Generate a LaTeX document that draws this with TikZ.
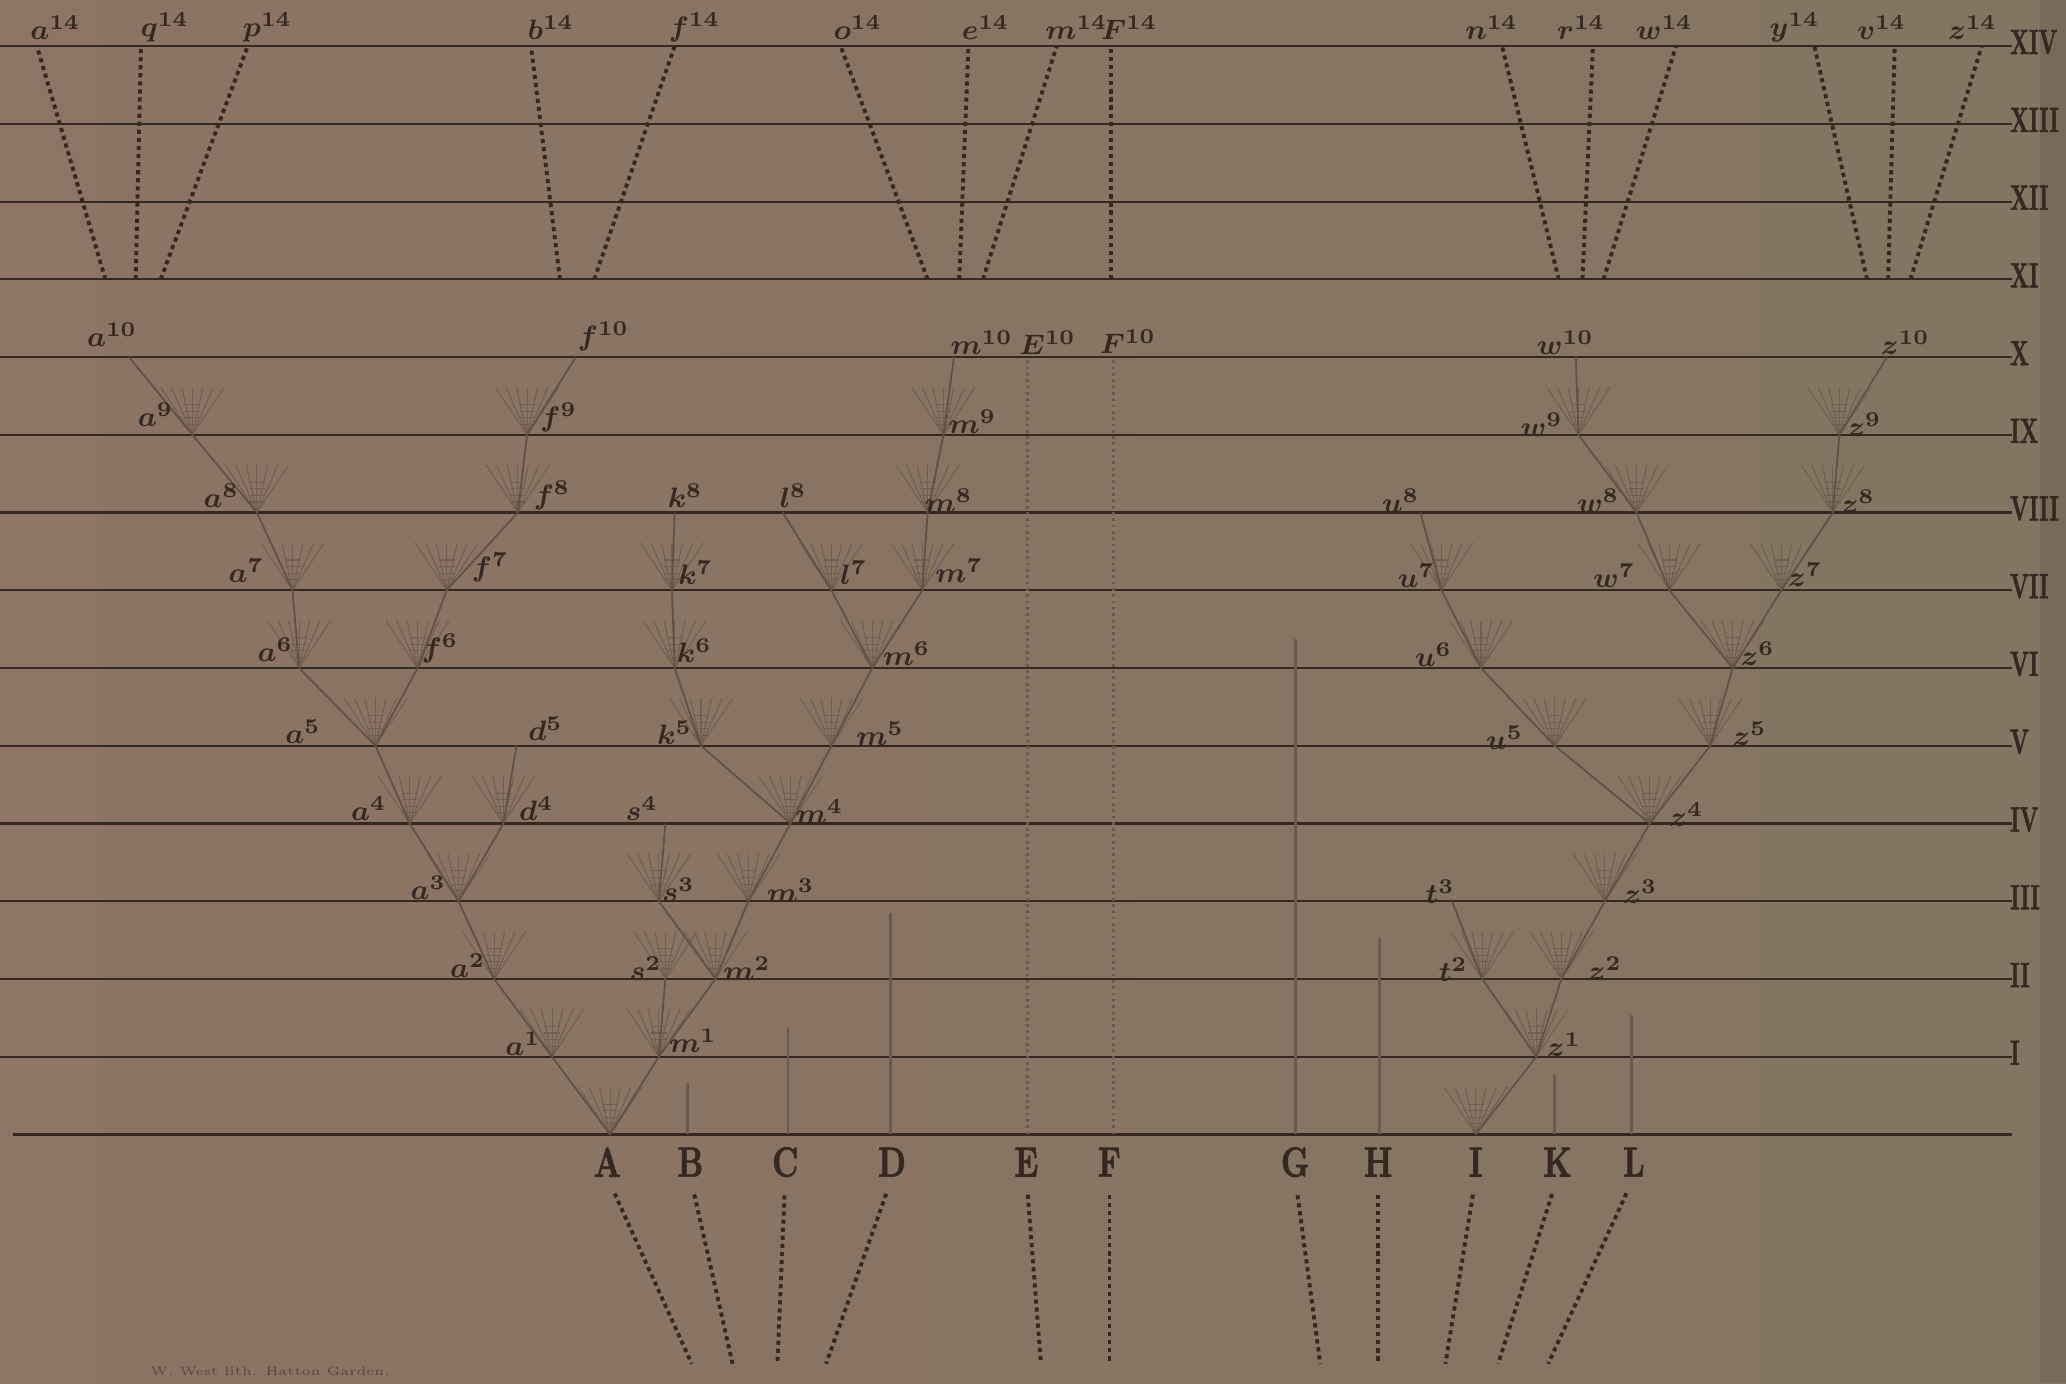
\documentclass[tikz,border=0pt]{standalone}
\usepackage{fontspec}
\newfontfamily\heavyfont{lmroman10-bold.otf}[FakeBold=1.6]
\definecolor{paper}{RGB}{141,116,100}
\definecolor{paperright}{RGB}{131,117,98}
\definecolor{ink}{RGB}{52,40,32}
\definecolor{faint}{RGB}{108,91,76}

% a fan of faint lines above a branching point
\newcommand{\branchfan}[1]{%
  \foreach \dx in {-24,-16,-8,0,8,16,24}
    \draw[fanline] (#1) -- ++(\dx,-36);
  \foreach \hy in {8,13,18,23}
    \draw[fanline] ([shift={(-6,-\hy)}]#1) -- ++(12,0);
}

\begin{document}
\begin{tikzpicture}[x=0.013176cm, y=-0.013176cm]
  \tikzset{
    timeline/.style = {draw=ink, line width=0.6pt},
    fanline/.style  = {draw=faint, line width=0.3pt, opacity=0.8},
    branch/.style   = {draw=faint!80!ink, line width=0.5pt},
    stem/.style     = {draw=faint, line width=0.8pt},
    descent/.style  = {draw=ink, line width=1.1pt, dash pattern=on 1.2pt off 1.1pt},
    lbl/.style      = {text=ink, font=\fontsize{8.5}{10}\selectfont\boldmath, inner sep=0pt},
    letter/.style   = {text=ink, font=\large\heavyfont, inner sep=0pt},
    numeral/.style  = {text=ink, font=\heavyfont, inner sep=0pt, anchor=west}
  }
  \useasboundingbox (0,0) rectangle (1568,1050);
  \fill[left color=paper, right color=paperright] (0,0) rectangle (1568,1050);
  \fill[paperright!75!black, opacity=0.35] (1548,0) rectangle (1568,1050);

  % the fourteen time lines and the base line
  \coordinate (left0) at (10,861);
  \coordinate (right0) at (1527,861);
  \draw[timeline] (left0) -- (right0);
  \foreach \k/\rn in {1/I,2/II,3/III,4/IV,5/V,6/VI,7/VII,8/VIII,9/IX,10/X,11/XI,12/XII,13/XIII,14/XIV} {
    \coordinate (left\k) at (0,{861-59*\k});
    \coordinate (right\k) at (1527,{861-59*\k});
    \draw[timeline] (left\k) -- (right\k);
    \node[numeral] (rn\k) at (1525,{858-59*\k}) {\scalebox{0.62}[1]{\rn}};
  }

  % branching points of A
  \coordinate (pA) at (463,861);
  \coordinate (a1) at (419,802);  \coordinate (m1) at (500,802);
  \coordinate (a2) at (375,743);  \coordinate (s2) at (505,743);  \coordinate (m2) at (543,743);
  \coordinate (a3) at (348,684);  \coordinate (s3) at (500,684);  \coordinate (m3) at (568,684);
  \coordinate (a4) at (311,625);  \coordinate (d4) at (382,625);  \coordinate (s4) at (505,625);  \coordinate (m4) at (600,625);
  \coordinate (a5) at (285,566);  \coordinate (d5) at (392,566);  \coordinate (k5) at (532,566);  \coordinate (m5) at (631,566);
  \coordinate (a6) at (227,507);  \coordinate (f6) at (317,507);  \coordinate (k6) at (512,507);  \coordinate (m6) at (662,507);
  \coordinate (a7) at (222,448);  \coordinate (f7) at (339,448);  \coordinate (k7) at (510,448);  \coordinate (l7) at (631,448);  \coordinate (m7) at (700,448);
  \coordinate (a8) at (195,389);  \coordinate (f8) at (393,389);  \coordinate (k8) at (512,389);  \coordinate (l8) at (594,389);  \coordinate (m8) at (704,389);
  \coordinate (a9) at (146,330);  \coordinate (f9) at (400,330);  \coordinate (m9) at (716,330);
  \coordinate (a10) at (98,271);  \coordinate (f10) at (437,271); \coordinate (m10) at (724,271);
  \coordinate (pE) at (780,861);  \coordinate (E10) at (780,271);
  \coordinate (pF) at (845,861);  \coordinate (F10) at (845,271);

  % branching points of I
  \coordinate (pI) at (1120,861);
  \coordinate (z1) at (1166,802);
  \coordinate (t2) at (1125,743);  \coordinate (z2) at (1185,743);
  \coordinate (t3) at (1102,684);  \coordinate (z3) at (1218,684);
  \coordinate (z4) at (1252,625);
  \coordinate (u5) at (1180,566);  \coordinate (z5) at (1298,566);
  \coordinate (u6) at (1124,507);  \coordinate (z6) at (1315,507);
  \coordinate (u7) at (1094,448);  \coordinate (w7) at (1267,448);  \coordinate (z7) at (1352,448);
  \coordinate (u8) at (1078,389);  \coordinate (w8) at (1242,389);  \coordinate (z8) at (1391,389);
  \coordinate (w9) at (1198,330);  \coordinate (z9) at (1396,330);
  \coordinate (w10) at (1196,271); \coordinate (z10) at (1432,271);

  \foreach \p in {pA,a1,m1,a2,s2,m2,a3,s3,m3,a4,d4,m4,a5,k5,m5,a6,f6,k6,m6,a7,f7,k7,l7,m7,a8,f8,m8,a9,f9,m9,
                  pI,z1,t2,z2,z3,z4,u5,z5,u6,z6,u7,w7,z7,w8,z8,w9,z9}
    \branchfan{\p};

  \foreach \u/\v in {pA/a1,pA/m1,a1/a2,m1/s2,m1/m2,a2/a3,m2/s3,m2/m3,a3/a4,a3/d4,s3/s4,m3/m4,
                     a4/a5,d4/d5,m4/k5,m4/m5,a5/a6,a5/f6,k5/k6,m5/m6,a6/a7,f6/f7,k6/k7,m6/l7,m6/m7,
                     a7/a8,f7/f8,k7/k8,l7/l8,m7/m8,a8/a9,f8/f9,m8/m9,a9/a10,f9/f10,m9/m10,
                     pI/z1,z1/t2,z1/z2,t2/t3,z2/z3,z3/z4,z4/u5,z4/z5,u5/u6,u6/u7,u7/u8,z5/z6,
                     z6/w7,z6/z7,w7/w8,w8/w9,w9/w10,z7/z8,z8/z9,z9/z10}
    \draw[branch] (\u) -- (\v);

  % unchanged species
  \draw[stem, densely dotted] (pE) -- (E10);
  \draw[stem, densely dotted] (pF) -- (F10);
  \coordinate (pB) at (522,861);   \coordinate (Btop) at (522,822);
  \coordinate (pC) at (598,861);   \coordinate (Ctop) at (598,780);
  \coordinate (pD) at (676,861);   \coordinate (Dtop) at (676,693);
  \coordinate (pG) at (983,861);   \coordinate (Gtop) at (983,485);
  \coordinate (pH) at (1047,861);  \coordinate (Htop) at (1047,712);
  \coordinate (pK) at (1180,861);  \coordinate (Ktop) at (1180,815);
  \coordinate (pL) at (1238,861);  \coordinate (Ltop) at (1238,770);
  \foreach \s in {B,C,D,G,H,K,L}
    \draw[stem] (p\s) -- (\s top);

  % labels of the varieties
  \foreach \nm/\x/\y/\txt in {a1/397/792/a^{1}, m1/526/790/m^{1},
      a2/355/733/a^{2}, s2/490/735/s^{2}, m2/567/735/m^{2},
      a3/325/674/a^{3}, s3/515/675/s^{3}, m3/600/676/m^{3},
      a4/280/614/a^{4}, d4/407/614/d^{4}, s4/487/614/s^{4}, m4/622/616/m^{4},
      a5/230/555/a^{5}, d5/414/553/d^{5}, k5/512/556/k^{5}, m5/668/557/m^{5},
      a6/209/493/a^{6}, f6/334/492/f^{6}, k6/527/494/k^{6}, m6/688/496/m^{6},
      a7/187/433/a^{7}, f7/372/431/f^{7}, k7/528/435/k^{7}, l7/648/435/l^{7}, m7/728/433/m^{7},
      a8/168/376/a^{8}, f8/419/376/f^{8}, k8/520/376/k^{8}, l8/602/376/l^{8}, m8/720/380/m^{8},
      a9/118/315/a^{9}, f9/424/317/f^{9}, m9/738/320/m^{9},
      a10/85/254/a^{10}, f10/458/255/f^{10}, m10/745/260/m^{10}, E10/795/260/E^{10}, F10/856/259/F^{10},
      z1/1187/793/z^{1}, t2/1103/736/t^{2}, z2/1218/735/z^{2}, t3/1093/677/t^{3}, z3/1245/677/z^{3},
      z4/1280/618/z^{4}, u5/1142/560/u^{5}, z5/1328/557/z^{5}, u6/1088/497/u^{6}, z6/1334/496/z^{6},
      u7/1075/437/u^{7}, w7/1225/437/w^{7}, z7/1370/436/z^{7}, u8/1063/380/u^{8}, w8/1213/380/w^{8},
      z8/1410/381/z^{8}, w9/1170/322/w^{9}, z9/1415/322/z^{9}, w10/1188/260/w^{10}, z10/1446/260/z^{10}}
    \node[lbl] (l\nm) at (\x,\y) {$\txt$};

  % the forms after fourteen thousand generations
  \foreach \nm/\xb/\xt/\xl in {a/80/28/42, q/103/107/125, p/122/188/203, b/425/403/418, f/451/512/527,
      o/704/638/651, e/728/735/748, m/746/802/817, F/843/843/857, n/1183/1140/1132, r/1201/1209/1200,
      w/1217/1272/1263, y/1417/1377/1362, v/1433/1438/1428, z/1450/1504/1497} {
    \coordinate (\nm11) at (\xb,212);
    \coordinate (\nm14) at (\xt,35);
    \draw[descent] (\nm11) -- (\nm14);
    \node[lbl] (l\nm14) at (\xl,21) {$\nm^{14}$};
  }

  % the original species and their lines below the base
  \foreach \s/\x/\xe in {A/461/525, B/524/556, C/596/590, D/677/627, E/779/790, F/842/842,
                         G/983/1002, H/1046/1046, I/1120/1097, K/1182/1137, L/1240/1175} {
    \node[letter] (\s) at (\x,882) {\scalebox{0.75}[1]{\s}};
    \coordinate (\s end) at (\xe,1035);
    \draw[descent, shorten <=5pt] (\s.south) -- (\s end);
  }

  \node[text=ink, font=\tiny, opacity=0.6] (credit) at (205,1041) {\scalebox{0.75}[0.7]{W. West lith. Hatton Garden.}};
\end{tikzpicture}
\end{document}
